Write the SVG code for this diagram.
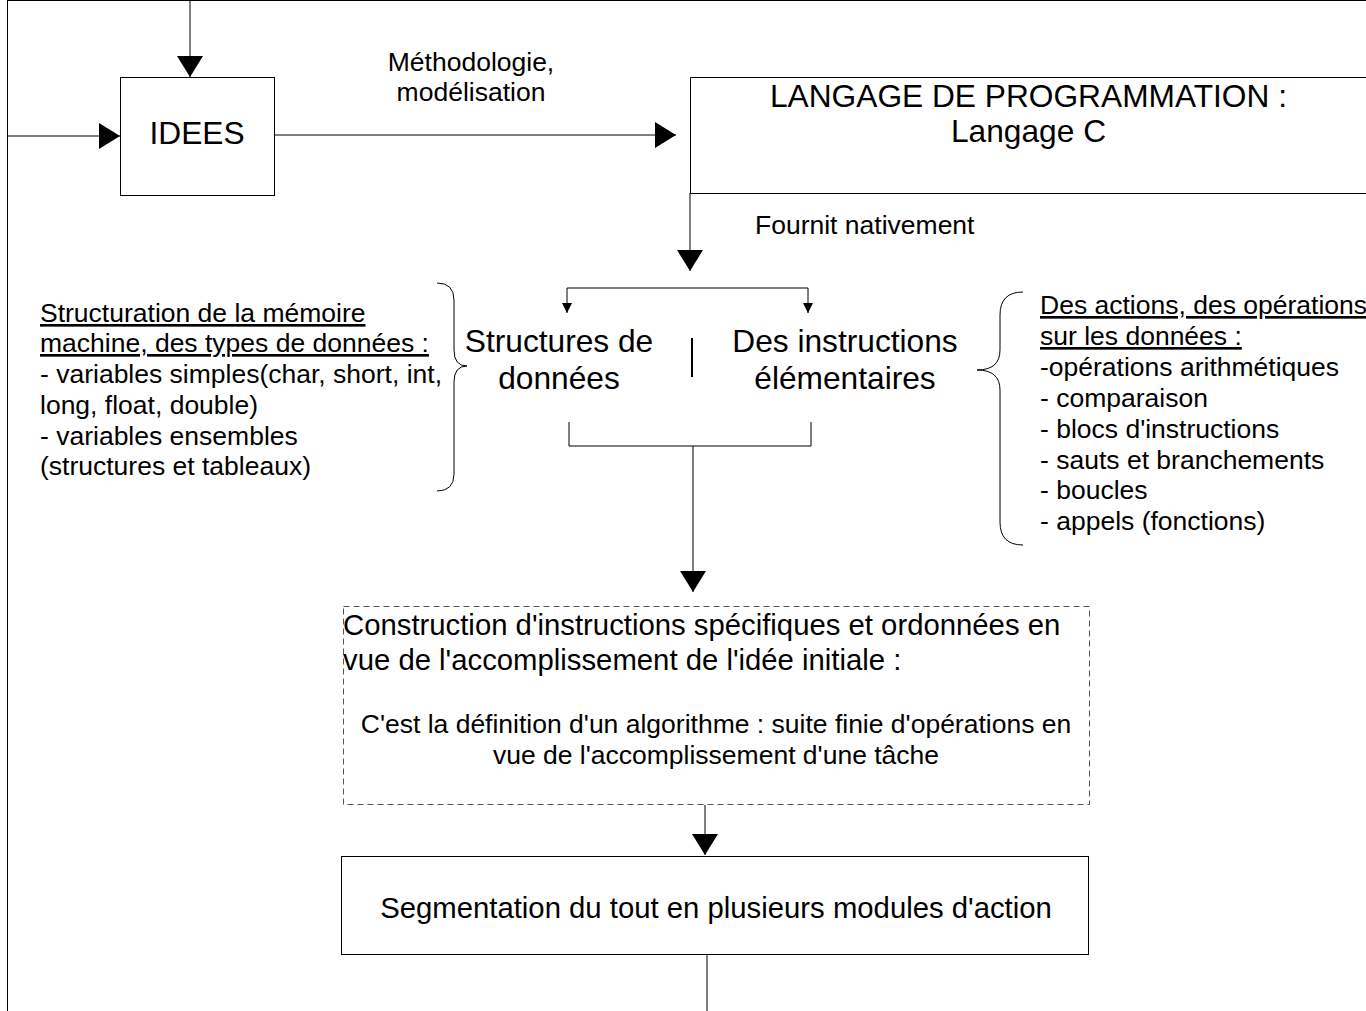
<svg xmlns="http://www.w3.org/2000/svg" width="1366" height="1011" viewBox="0 0 1366 1011">
<style>
  text { font-family: "Liberation Sans", Arial, sans-serif; fill: #000; }
  .big { font-size: 31.7px; }
  .mid { font-size: 29.3px; }
  .sm { font-size: 26.5px; }
  .c { text-anchor: middle; }
  .u { text-decoration: underline; }
  .ln { fill: none; stroke: #000; stroke-width: 1; }
  .box { fill: #fff; stroke: #000; stroke-width: 1; }
  .dash { fill: #fff; stroke: #555; stroke-width: 1; stroke-dasharray: 6 4; }
</style>
<defs>
  <marker id="ah" viewBox="0 0 21 26" refX="21" refY="13" markerWidth="21" markerHeight="26" markerUnits="userSpaceOnUse" orient="auto">
    <path d="M0,0 L21,13 L0,26 z" fill="#000"/>
  </marker>
  <marker id="as" viewBox="0 0 10 10" refX="10" refY="5" markerWidth="10" markerHeight="10" markerUnits="userSpaceOnUse" orient="auto-start-reverse">
    <path d="M0,0 L10,5 L0,10 z" fill="#000"/>
  </marker>
</defs>
<rect x="0" y="0" width="1366" height="1011" fill="#fff"/>

<g id="connectors">
  <path class="ln" d="M7,0.5 H1366"/>
  <path class="ln" d="M7.5,0 V1011"/>
  <path class="ln" d="M190,0 V77" marker-end="url(#ah)"/>
  <path class="ln" d="M7.5,136 H120" marker-end="url(#ah)"/>
  <path class="ln" d="M274,135 H676" marker-end="url(#ah)"/>
  <path class="ln" d="M690,193 V271" marker-end="url(#ah)"/>
  <path class="ln" d="M567,313 V288 H808 V313" marker-start="url(#as)" marker-end="url(#as)"/>
  <path class="ln" d="M569,422 V446 H811 V422"/>
  <path class="ln" d="M693,446 V592" marker-end="url(#ah)"/>
  <path class="ln" d="M705,805 V855" marker-end="url(#ah)"/>
  <path class="ln" d="M707,955 V1011"/>
</g>

<g id="label-methodologie">
  <text class="sm c" x="471" y="71">Méthodologie,</text>
  <text class="sm c" x="471" y="101">modélisation</text>
</g>

<g id="idees">
  <rect class="box" x="120.5" y="77.5" width="154" height="118"/>
  <text class="big c" x="197" y="144">IDEES</text>
</g>

<g id="langage">
  <path class="ln" d="M1366,77.5 H690.5 V193.5 H1366"/>
  <text class="big c" x="1028.5" y="107">LANGAGE DE PROGRAMMATION :</text>
  <text class="big c" x="1028.5" y="142">Langage C</text>
</g>

<g id="label-fournit">
  <text class="sm" x="755" y="234">Fournit nativement</text>
</g>

<g id="structures">
  <text class="big c" x="559" y="352">Structures de</text>
  <text class="big c" x="559" y="389">données</text>
</g>

<g id="separator">
  <path d="M692,338 V377" stroke="#000" stroke-width="2"/>
</g>

<g id="instructions">
  <text class="big c" x="845" y="352">Des instructions</text>
  <text class="big c" x="845" y="389">élémentaires</text>
</g>

<g id="left-note">
  <path class="ln" d="M437,283 Q454,283 454,300 L454,350 Q454,366 467,366 Q454,366 454,382 L454,474 Q454,491 437,491"/>
  <text class="sm u" x="40" y="322">Structuration de la mémoire</text>
  <text class="sm u" x="40" y="352">machine, des types de données :</text>
  <text class="sm" x="40" y="383">- variables simples(char, short, int,</text>
  <text class="sm" x="40" y="414">long, float, double)</text>
  <text class="sm" x="40" y="445">- variables ensembles</text>
  <text class="sm" x="40" y="475">(structures et tableaux)</text>
</g>

<g id="right-note">
  <path class="ln" d="M1023,292 Q1000,292 1000,315 L1000,350 Q1000,370 977,370 Q1000,370 1000,390 L1000,522 Q1000,545 1023,545"/>
  <text class="sm u" x="1040" y="314">Des actions, des opérations</text>
  <text class="sm u" x="1040" y="345">sur les données :</text>
  <text class="sm" x="1040" y="376">-opérations arithmétiques</text>
  <text class="sm" x="1040" y="407">- comparaison</text>
  <text class="sm" x="1040" y="438">- blocs d'instructions</text>
  <text class="sm" x="1040" y="469">- sauts et branchements</text>
  <text class="sm" x="1040" y="499">- boucles</text>
  <text class="sm" x="1040" y="530">- appels (fonctions)</text>
</g>

<g id="construction">
  <rect class="dash" x="343.5" y="606.5" width="746" height="198"/>
  <text class="mid" x="343" y="635">Construction d'instructions spécifiques et ordonnées en</text>
  <text class="mid" x="343" y="670">vue de l'accomplissement de l'idée initiale :</text>
  <text class="sm c" x="716" y="733">C'est la définition d'un algorithme : suite finie d'opérations en</text>
  <text class="sm c" x="716" y="764">vue de l'accomplissement d'une tâche</text>
</g>

<g id="segmentation">
  <rect class="box" x="341.5" y="856.5" width="747" height="98"/>
  <text class="mid c" x="716" y="918">Segmentation du tout en plusieurs modules d'action</text>
</g>
</svg>
